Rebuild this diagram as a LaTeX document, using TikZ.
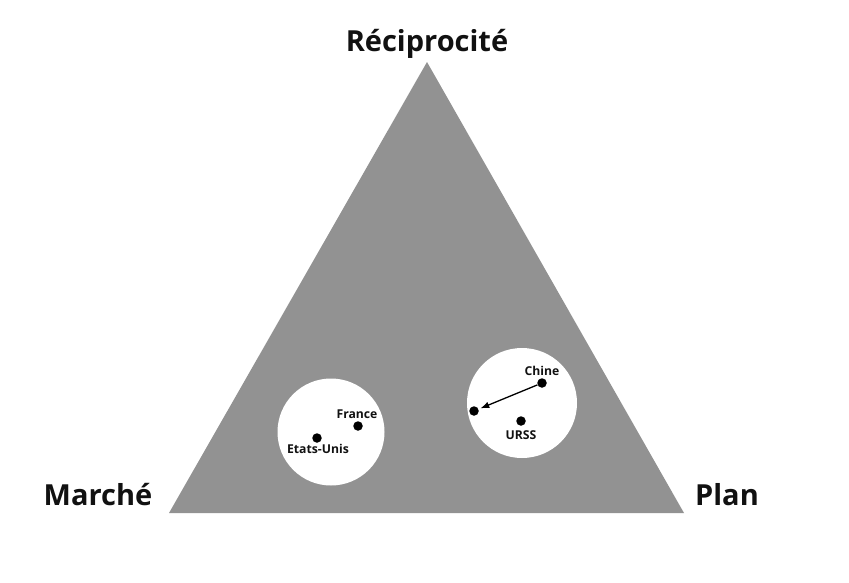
\documentclass[tikz,border=0pt]{standalone}
\usepackage{fontspec}
\setmainfont{Open Sans}
\usetikzlibrary{arrows.meta,positioning}
\definecolor{TriGray}{RGB}{146,146,146}
\definecolor{TextDark}{RGB}{17,17,17}
\tikzset{
  pole/.style={font=\fontsize{29}{32}\selectfont\bfseries, text=TextDark, inner sep=0pt},
  paysdot/.style={circle, fill=black, inner sep=0pt, minimum size=9.5pt},
  pays/.style={font=\fontsize{12.2}{14}\selectfont\bfseries, text=TextDark, inner sep=0pt},
  zone/.style={circle, fill=white, inner sep=0pt},
}
\begin{document}
\begin{tikzpicture}[x=1pt, y=-1pt, >=Latex]
      \useasboundingbox (0,0) rectangle (849,582);
      % triangle
      \coordinate (top) at (427,62);
      \coordinate (bl) at (169,513);
      \coordinate (br) at (684,513);
      \fill[TriGray] (top) -- (bl) -- (br) -- cycle;

      \node[pole] (rec) at (427,44) {Réciprocité};
      \node[pole] (mar) at (98,495) {Marché};
      \node[pole] (pla) at (727,495) {Plan};

      % zones
      \node[zone, minimum size=107pt] (zoneO) at (331,432) {};
      \node[zone, minimum size=110pt] (zoneE) at (522,403) {};

      \node[paysdot] (fr) at (358,426) {};
      \node[paysdot] (us) at (317,438) {};
      \node[paysdot] (ch) at (542,383) {};
      \node[paysdot] (fin) at (474,411) {};
      \node[paysdot] (ur) at (521,421) {};

      \node[pays] (frl) at (357,414) {France};
      \node[pays] (usl) at (318,449) {Etats-Unis};
      \node[pays] (chl) at (542,371) {Chine};
      \node[pays] (url) at (521,435) {URSS};

      \draw[->, line width=1.3pt, shorten >=2pt] (ch) -- (fin);
    \end{tikzpicture}
\end{document}
